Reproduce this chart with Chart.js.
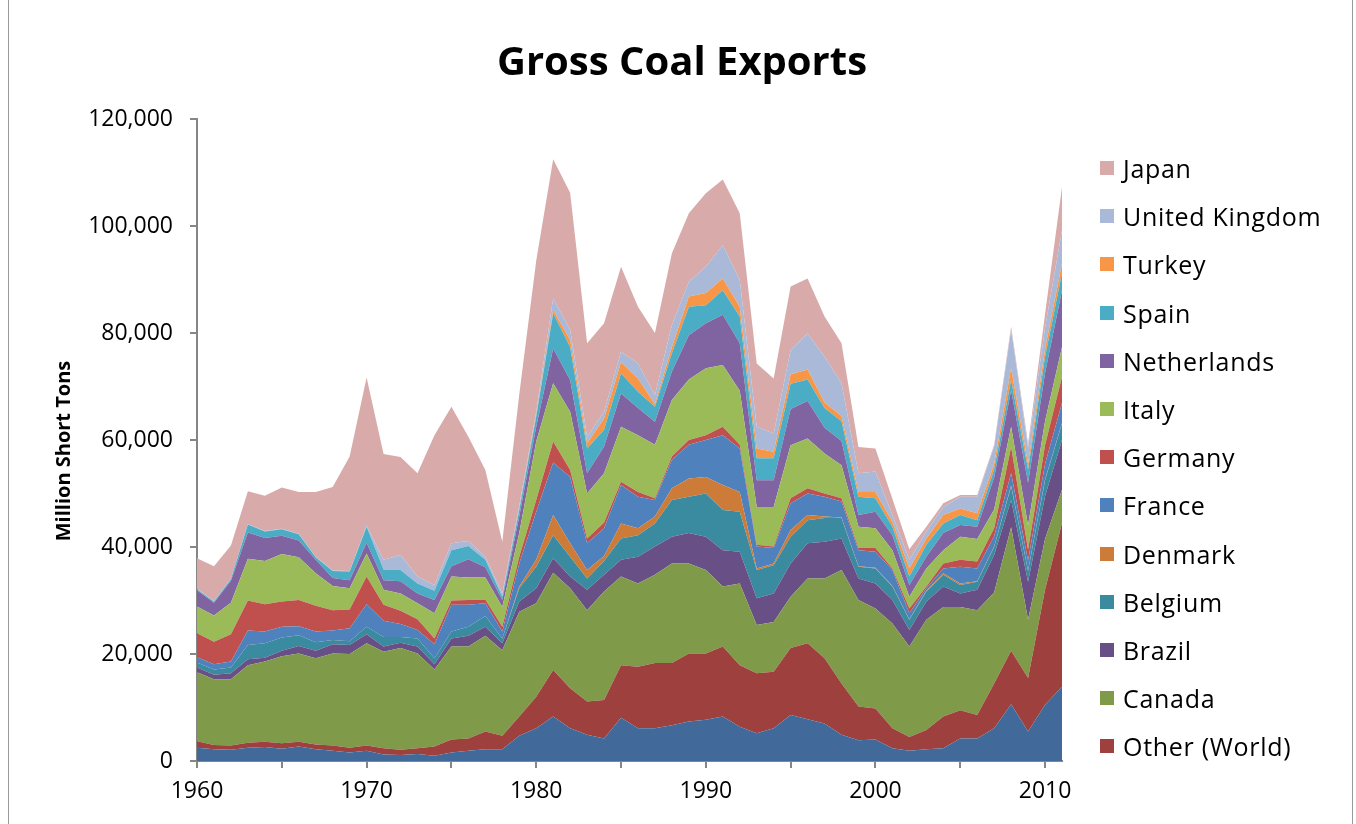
<!DOCTYPE html>
<html>
<head>
<meta charset="utf-8">
<title>Gross Coal Exports</title>
<script src="https://cdn.jsdelivr.net/npm/chart.js@4.4.1/dist/chart.umd.min.js"></script>
<style>
  html, body { margin: 0; padding: 0; background: #fff; }
  #wrap { position: relative; width: 1356px; height: 824px; overflow: hidden; font-family: "Open Sans", sans-serif; color: #000; }
  #frame { position: absolute; left: 8px; top: -2px; width: 1345px; height: 830px; border: 1px solid #9a9a9a; box-sizing: border-box; }
  #title { position: absolute; left: 0; top: 36px; width: 1364px; text-align: center; font-weight: bold; font-size: 40px; line-height: 48px; }
  #ytitle { position: absolute; left: 62px; top: 451px; transform: translate(-50%, -50%) rotate(-90deg); font-weight: bold; font-size: 20px; white-space: nowrap; }
  #legend { position: absolute; left: 1100px; top: 144px; }
  .item { height: 48.2px; display: flex; align-items: center; font-size: 25px; letter-spacing: 0.7px; white-space: nowrap; }
  .sw { width: 14px; height: 14px; margin-right: 9px; flex: none; }
  canvas { position: absolute; left: 0; top: 0; }
</style>
</head>
<body>
<div id="wrap">
  <canvas id="chart" width="1356" height="824"></canvas>
  <div id="frame"></div>
  <div id="title">Gross Coal Exports</div>
  <div id="ytitle">Million Short Tons</div>
  <div id="legend"></div>
</div>
<script>
const years = [
  1960, 1961, 1962, 1963, 1964, 1965, 1966, 1967, 1968, 1969,
  1970, 1971, 1972, 1973, 1974, 1975, 1976, 1977, 1978, 1979,
  1980, 1981, 1982, 1983, 1984, 1985, 1986, 1987, 1988, 1989,
  1990, 1991, 1992, 1993, 1994, 1995, 1996, 1997, 1998, 1999,
  2000, 2001, 2002, 2003, 2004, 2005, 2006, 2007, 2008, 2009,
  2010, 2011
];

// bottom series, its legend entry is cut off in the original
const unlabelled = [
  2500, 2200, 2100, 2500, 2600, 2300, 2700, 2200, 1900, 1600,
  1900, 1200, 1100, 1300, 1000, 1600, 1900, 2200, 2200, 4700,
  6100, 8300, 6100, 4900, 4200, 8100, 6100, 6100, 6700, 7400,
  7700, 8300, 6400, 5200, 6100, 8600, 7800, 7000, 4900, 3900,
  4000, 2400, 1900, 2200, 2400, 4200, 4200, 6100, 10600, 5500,
  10500, 13900
];
const otherWorld = [
  1200, 800, 800, 900, 1000, 1000, 900, 900, 1000, 900,
  1000, 1200, 1000, 1100, 1700, 2400, 2300, 3300, 2500, 3600,
  5900, 8700, 7500, 6200, 7200, 9800, 11500, 12200, 11600, 12700,
  12400, 13100, 11500, 11200, 10600, 12500, 14200, 12200, 9600, 6300,
  5800, 3700, 2600, 3600, 5900, 5300, 4400, 8400, 10000, 10000,
  21500, 30600
];
const canada = [
  12900, 12300, 12400, 14500, 15000, 16300, 16500, 16100, 17200, 17500,
  19100, 18000, 19000, 17700, 14400, 17400, 17200, 17900, 16000, 19600,
  17500, 18200, 18700, 17100, 20300, 16600, 15600, 16500, 18600, 16800,
  15600, 11200, 15300, 9000, 9300, 9600, 12100, 14900, 21200, 19900,
  18700, 19600, 16900, 20600, 20500, 19300, 19600, 17000, 23100, 10900,
  9500, 6200
];
const brazil = [
  900, 800, 1100, 1100, 700, 1000, 1400, 1400, 1700, 1700,
  1700, 1000, 1000, 1300, 1000, 1500, 2000, 1700, 1300, 1900,
  2800, 2700, 2200, 3800, 3100, 3100, 5000, 5300, 5000, 5700,
  6200, 6800, 5900, 5000, 5300, 6200, 6600, 6900, 5900, 4000,
  4700, 4400, 3100, 3400, 3800, 2500, 3800, 7000, 5100, 7100,
  8000, 9300
];
const belgium = [
  900, 1000, 1100, 2700, 2700, 2500, 2000, 1600, 800, 700,
  1400, 1800, 1100, 1500, 1100, 1300, 1700, 2000, 900, 2500,
  4000, 4300, 3700, 2100, 2600, 4000, 4000, 4300, 6900, 6800,
  8100, 7500, 7500, 5300, 5300, 5000, 4300, 4400, 3800, 2200,
  2800, 2500, 1900, 1900, 2200, 1600, 1500, 1500, 2500, 2000,
  3000, 3100
];
const denmark = [
  0, 0, 0, 0, 0, 0, 0, 0, 0, 0,
  0, 0, 0, 0, 0, 0, 0, 0, 0, 300,
  1300, 3800, 2500, 1600, 900, 2800, 1300, 1300, 2200, 3400,
  3100, 4700, 3700, 300, 300, 1300, 1000, 300, 100, 100,
  100, 100, 100, 100, 300, 300, 100, 100, 200, 100,
  100, 100
];
const france = [
  1000, 1000, 1100, 2700, 2200, 2000, 1700, 2000, 1800, 2400,
  4200, 3000, 2400, 1600, 2600, 5000, 4100, 2400, 1300, 4300,
  9000, 9800, 12400, 5000, 5200, 7200, 5900, 3100, 5300, 6300,
  6900, 9300, 8100, 4100, 2900, 5000, 4000, 3700, 3000, 3000,
  3000, 3000, 1100, 500, 900, 3100, 2400, 1900, 2300, 1900,
  2900, 3700
];
const germany = [
  4500, 4200, 5100, 5600, 5100, 4700, 4900, 4800, 3800, 3500,
  5200, 3000, 2500, 2000, 1100, 800, 900, 700, 900, 1300,
  2200, 3900, 1300, 900, 1100, 600, 900, 300, 600, 900,
  900, 1600, 700, 300, 300, 900, 1000, 600, 600, 400,
  700, 300, 900, 300, 900, 1300, 1300, 1500, 4900, 2000,
  3500, 4900
];
const italy = [
  5000, 4900, 5900, 7800, 8100, 8900, 8000, 6100, 4500, 4000,
  4300, 2800, 3200, 3000, 4700, 4500, 4200, 4100, 3700, 4400,
  10900, 10900, 10900, 8400, 9200, 10300, 10600, 10000, 10600, 11300,
  12500, 11500, 10100, 7100, 7400, 9900, 9300, 7500, 6200, 4000,
  3700, 3400, 2200, 3400, 2500, 4300, 4200, 3500, 3800, 4500,
  4500, 5600
];
const netherlands = [
  3000, 2400, 4100, 4900, 4300, 3400, 3100, 2500, 1500, 1500,
  2000, 1800, 2300, 1800, 2500, 1900, 3400, 1900, 1300, 3100,
  2800, 6500, 5900, 3800, 5000, 6200, 5100, 4300, 5300, 8300,
  8400, 9400, 8900, 5000, 5000, 6800, 7000, 4800, 4500, 2200,
  3100, 2800, 2200, 2200, 3200, 2200, 2300, 6000, 6800, 8000,
  9000, 10600
];
const spain = [
  200, 200, 300, 1500, 1200, 1200, 1200, 500, 1300, 1600,
  3000, 2000, 2100, 1900, 1700, 3000, 2500, 1400, 600, 1200,
  1900, 6600, 6200, 4600, 3100, 3800, 3000, 2800, 3400, 5300,
  3400, 4600, 5000, 4100, 4100, 4700, 4000, 3700, 3700, 3400,
  2500, 1600, 1600, 2200, 1800, 1900, 1200, 1500, 1900, 2500,
  3000, 3200
];
const turkey = [
  0, 0, 0, 0, 0, 0, 0, 0, 0, 0,
  0, 0, 0, 0, 0, 0, 0, 0, 0, 100,
  300, 600, 1300, 1000, 2100, 2100, 2500, 500, 1200, 1900,
  2300, 2200, 1800, 1800, 1200, 1800, 1900, 1000, 1000, 900,
  1200, 900, 1500, 1200, 1600, 1200, 1300, 1000, 2200, 1000,
  1500, 1800
];
const unitedKingdom = [
  100, 100, 100, 100, 100, 100, 100, 100, 100, 100,
  200, 1800, 2800, 1300, 1100, 1300, 900, 600, 600, 700,
  600, 2200, 1900, 1200, 1300, 1900, 2800, 1700, 4100, 2800,
  4900, 6200, 5000, 4100, 3400, 4500, 6700, 8600, 6100, 3500,
  3800, 1300, 1600, 1300, 1500, 2200, 3100, 3300, 7200, 3100,
  4000, 6200
];
const japan = [
  5700, 6500, 6200, 6100, 6600, 7700, 7800, 12100, 15600, 21400,
  27700, 19800, 18300, 19300, 28000, 25500, 19500, 16200, 9700, 20800,
  28200, 26000, 25600, 17500, 16500, 15900, 10600, 11600, 13400, 12800,
  13700, 12300, 12500, 11800, 10300, 11900, 10300, 7500, 7500, 4900,
  4300, 3000, 2000, 900, 700, 300, 300, 300, 600, 700,
  2500, 8100
];

// stacking order, bottom first
const series = [
  { name: 'Unlabelled', values: unlabelled, color: '#416A9B', inLegend: false },
  { name: 'Other (World)', values: otherWorld, color: '#9E413E', inLegend: true },
  { name: 'Canada', values: canada, color: '#7F9A48', inLegend: true },
  { name: 'Brazil', values: brazil, color: '#685086', inLegend: true },
  { name: 'Belgium', values: belgium, color: '#3B8BA0', inLegend: true },
  { name: 'Denmark', values: denmark, color: '#CC7B38', inLegend: true },
  { name: 'France', values: france, color: '#4F81BD', inLegend: true },
  { name: 'Germany', values: germany, color: '#C0504D', inLegend: true },
  { name: 'Italy', values: italy, color: '#9BBB59', inLegend: true },
  { name: 'Netherlands', values: netherlands, color: '#8064A2', inLegend: true },
  { name: 'Spain', values: spain, color: '#4BACC6', inLegend: true },
  { name: 'Turkey', values: turkey, color: '#F79646', inLegend: true },
  { name: 'United Kingdom', values: unitedKingdom, color: '#AAB9D7', inLegend: true },
  { name: 'Japan', values: japan, color: '#D9AAAA', inLegend: true }
];

// legend lists the top of the stack first, like Excel does
const legendEl = document.getElementById('legend');
series.slice().reverse().forEach(s => {
  if (!s.inLegend) return;
  const row = document.createElement('div');
  row.className = 'item';
  const sw = document.createElement('span');
  sw.className = 'sw';
  sw.style.background = s.color;
  row.appendChild(sw);
  row.appendChild(document.createTextNode(s.name));
  legendEl.appendChild(row);
});

const datasets = series.map((s, i) => ({
  label: s.name,
  data: years.map((yr, k) => ({ x: yr, y: s.values[k] })),
  backgroundColor: s.color,
  borderColor: 'rgba(0,0,0,0)',
  borderWidth: 0,
  pointRadius: 0,
  tension: 0,
  fill: i === 0 ? 'origin' : '-1'
}));

const axisGrey = '#868686';
const tickFont = { family: '"Open Sans", sans-serif', size: 23 };

new Chart(document.getElementById('chart'), {
  type: 'line',
  data: { datasets: datasets },
  options: {
    responsive: false,
    devicePixelRatio: 1,
    animation: false,
    locale: 'en-US',
    layout: { padding: { top: 119, right: 294, left: 0, bottom: 0 } },
    plugins: {
      legend: { display: false },
      tooltip: { enabled: false }
    },
    scales: {
      x: {
        type: 'linear',
        min: 1960,
        max: 2011,
        border: { color: axisGrey, width: 2 },
        grid: { drawOnChartArea: false, tickLength: 7, color: axisGrey, lineWidth: 2 },
        ticks: {
          stepSize: 5,
          includeBounds: false,
          autoSkip: false,
          maxRotation: 0,
          padding: 10,
          color: '#000',
          font: tickFont,
          callback: (v) => (v % 10 === 0 ? String(v) : '')
        },
        afterFit: (scale) => { scale.height = 63; }
      },
      y: {
        stacked: true,
        min: 0,
        max: 120000,
        border: { color: axisGrey, width: 2 },
        grid: { drawOnChartArea: false, tickLength: 7, color: axisGrey, lineWidth: 2 },
        ticks: { stepSize: 20000, padding: 17, color: '#000', font: tickFont },
        afterFit: (scale) => { scale.width = 197; }
      }
    }
  }
});
</script>
</body>
</html>
